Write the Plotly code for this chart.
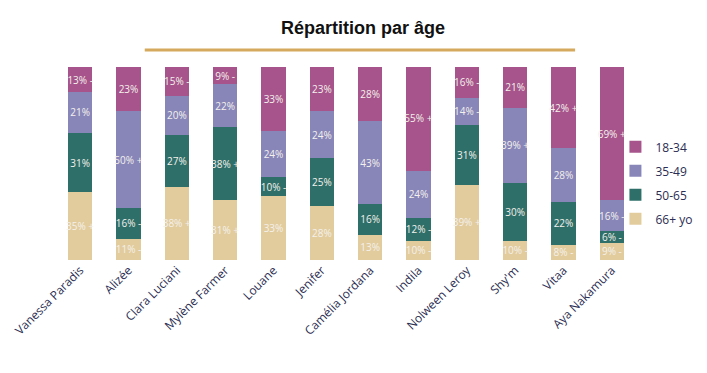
import plotly.graph_objects as go

artists = ["Vanessa Paradis", "Alizée", "Clara Luciani", "Mylène Farmer", "Louane", "Jenifer",
           "Camélia Jordana", "Indila", "Nolween Leroy", "Shy'm", "Vitaa", "Aya Nakamura"]
legend_names = ["66+ yo", "50-65", "35-49", "18-34"]
v_66 = [35, 11, 38, 31, 33, 28, 13, 10, 39, 10, 8, 9]
v_50 = [31, 16, 27, 38, 10, 25, 16, 12, 31, 30, 22, 6]
v_35 = [21, 50, 20, 22, 24, 24, 43, 24, 14, 39, 28, 16]
v_18 = [13, 23, 15, 9, 33, 23, 28, 55, 16, 21, 42, 69]
s_66 = ["+", "-", "+", "+", "", "", "", "-", "+", "-", "-", "-"]
s_50 = ["", "-", "", "+", "-", "", "", "-", "", "", "", "-"]
s_35 = ["", "+", "", "", "", "", "", "", "-", "+", "", "-"]
s_18 = ["-", "", "-", "-", "", "", "", "+", "-", "", "+", "+"]

values = [v_66, v_50, v_35, v_18]
signs = [s_66, s_50, s_35, s_18]
colors = ["#E2CC9E", "#2F6F69", "#8886B9", "#A6548B"]

fig = go.Figure()
for i, (name, vals, sg, col) in enumerate(zip(legend_names, values, signs, colors)):
    txt = [f"{v}% {s}" if s else f"{v}%" for v, s in zip(vals, sg)]
    fig.add_trace(go.Bar(
        x=artists, y=vals, name=name, marker=dict(color=col, line=dict(width=0)),
        text=txt, textposition="inside", insidetextanchor="middle",
        constraintext="none", textangle=0,
        textfont=dict(color="#F4F1EC", size=10, family="Open Sans"),
        width=0.5, legendgroup=name, legendrank=10 - i,
    ))

fig.update_layout(
    barmode="stack",
    width=699, height=365,
    margin=dict(l=48, r=71, t=59, b=113, autoexpand=False),
    paper_bgcolor="white", plot_bgcolor="white",
    title=dict(text="<b>Répartition par âge</b>", x=0.508, xanchor="center", y=0.945, yanchor="middle",
               font=dict(family="Liberation Sans", size=18, color="#111111")),
    xaxis=dict(tickangle=-45, tickfont=dict(family="Open Sans", size=12, color="#2B2D52"),
               showgrid=False, showline=False, ticks="", ticklen=0, automargin=False),
    yaxis=dict(range=[0, 100], visible=False, automargin=False),
    legend=dict(xref="container", x=0.869, xanchor="left", yref="container", y=0.521, yanchor="middle",
                traceorder="grouped", tracegroupgap=5, bgcolor="rgba(0,0,0,0)",
                font=dict(family="Open Sans", size=12, color="#2B2D52"),
                itemwidth=30),
    shapes=[dict(type="line", xref="paper", yref="paper", x0=0.153, x1=0.895, y0=1.088, y1=1.088,
                 line=dict(color="#D5AA5E", width=3))],
    showlegend=True,
)
fig.write_html("out.html")
